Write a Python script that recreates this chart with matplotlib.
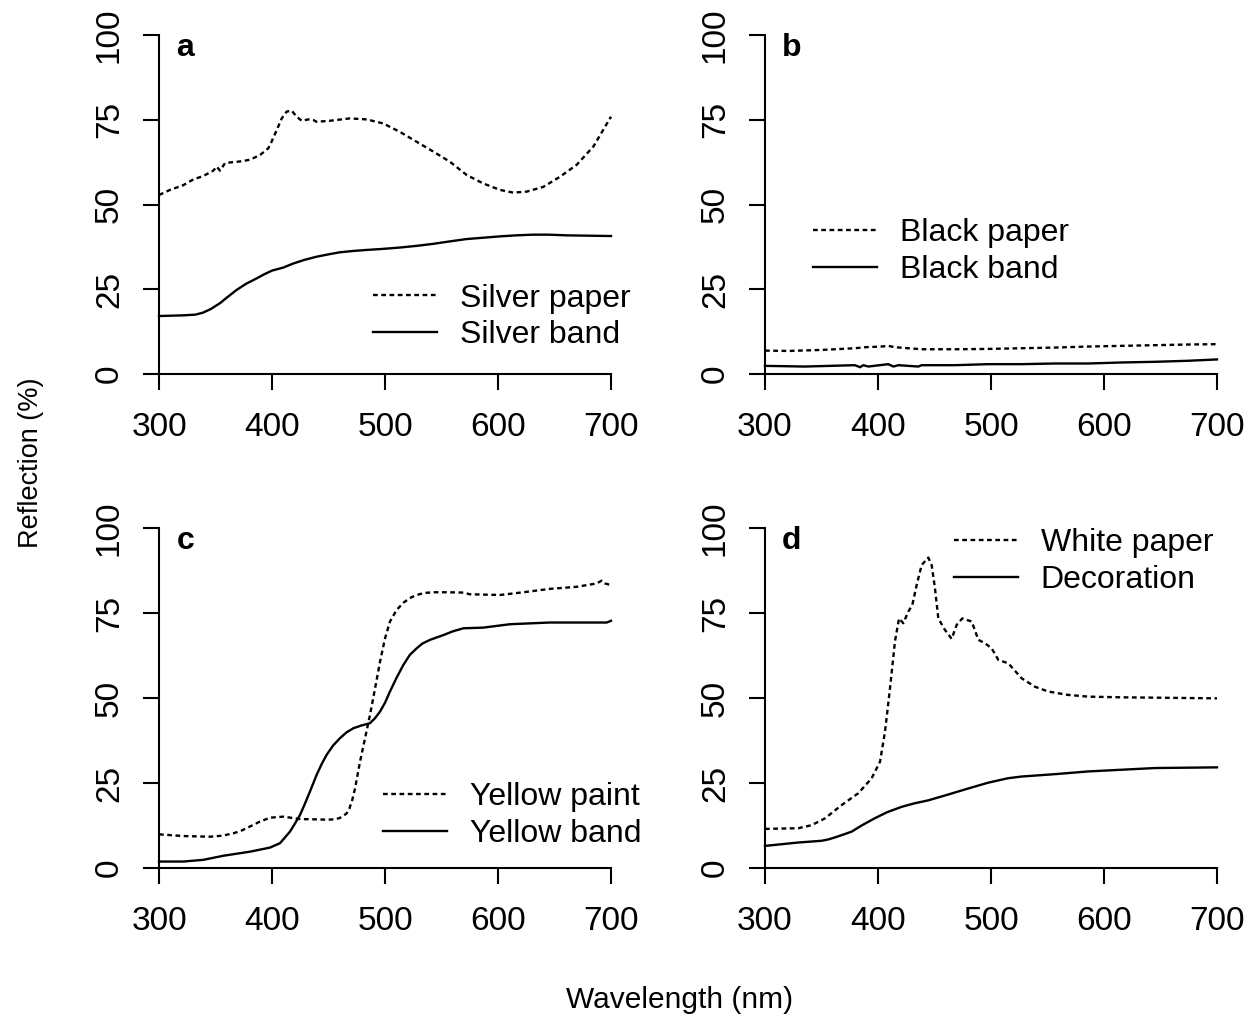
import matplotlib
matplotlib.use("Agg")
import matplotlib.pyplot as plt

plt.rcParams['font.family'] = ['Liberation Sans', 'DejaVu Sans']
plt.rcParams['font.size'] = 23

# ---- data (wavelength nm, reflection %) ----
silver_paper_wl = [300, 309.7, 321.5, 330.4, 339.2, 348.1, 351, 354, 358.4, 362.8, 371.7, 380.5,
                   389.4, 396.8, 399.7, 404.1, 408.6, 413, 417.4, 421.8, 426.3, 432.2, 436.6,
                   439.5, 451.3, 469, 483.8, 498.5, 513.3, 528, 542.8, 557.5, 572.3, 587,
                   601.8, 613.6, 625.4, 640.1, 654.9, 669.6, 684.4, 700]
silver_paper = [52.8, 54.3, 55.7, 57.4, 58.4, 60.0, 61.2, 60.0, 62.2, 62.4, 62.7, 63.2,
                64.6, 66.6, 68.6, 71.9, 75.4, 77.4, 77.7, 75.9, 74.7, 75.1, 74.9,
                74.4, 74.7, 75.4, 75.1, 73.9, 71.4, 68.5, 65.6, 62.6, 58.7, 56.2,
                54.3, 53.5, 53.8, 55.2, 58.2, 61.7, 67.1, 75.9]

silver_band_wl = [300, 321.5, 332, 339, 346, 354, 361, 368.7, 377, 386.4, 393, 400, 410,
                  418.9, 429, 439.5, 450, 460, 472, 483.8, 498, 513, 528, 542.8, 557, 572,
                  587, 601.8, 616, 631, 645, 660.8, 680, 700]
silver_band = [17.1, 17.3, 17.5, 18.1, 19.2, 20.9, 22.8, 24.8, 26.6, 28.2, 29.4, 30.5, 31.4,
               32.6, 33.7, 34.6, 35.3, 35.9, 36.3, 36.6, 36.9, 37.3, 37.8, 38.4, 39.1, 39.8,
               40.2, 40.6, 40.9, 41.1, 41.1, 40.9, 40.8, 40.7]

black_paper_wl = [300, 320.6, 350.1, 379.6, 388.5, 403.2, 409.1, 415, 438.6, 468.1, 497.6,
                  527.1, 556.6, 586.1, 615.6, 645.1, 674.6, 700]
black_paper = [6.9, 6.8, 7.1, 7.6, 7.9, 8.1, 8.3, 7.9, 7.3, 7.3, 7.4,
               7.6, 7.8, 8.1, 8.3, 8.5, 8.7, 8.8]

black_band_wl = [300, 335.4, 379.6, 384.1, 387, 391.4, 409.1, 413.6, 418, 435.7, 438.6,
                 468.1, 497.6, 527.1, 556.6, 586.1, 615.6, 645.1, 674.6, 700]
black_band = [2.4, 2.2, 2.6, 2.0, 2.6, 2.2, 2.9, 2.2, 2.6, 2.2, 2.6,
              2.6, 2.9, 2.9, 3.1, 3.1, 3.4, 3.6, 3.9, 4.3]

yellow_paint_wl = [300, 321.5, 345.1, 356, 365.8, 373, 380.5, 389, 398.2, 410, 424.8, 439.5,
                   450, 457.2, 462, 466.1, 468.4, 471, 473.5, 477.9, 482.3, 486.7, 491.2,
                   495.6, 500, 504.4, 510.3, 516.2, 522, 528, 535, 542.8, 556, 569.3, 575.2,
                   601.8, 622.4, 646, 669.6, 687.3, 691.7, 694.7, 700]
yellow_paint = [9.9, 9.4, 9.2, 9.5, 10.2, 11.0, 12.2, 13.6, 14.8, 15.1, 14.4, 14.3,
                14.2, 14.4, 15.0, 16.1, 17.4, 20.0, 23.4, 31.3, 38.1, 45.0, 52.8,
                60.7, 67.5, 72.5, 75.9, 78.0, 79.4, 80.3, 80.9, 81.1, 81.1, 81.0, 80.5,
                80.3, 81.1, 82.1, 82.7, 83.7, 84.5, 83.7, 83.2]

yellow_band_wl = [300, 321.5, 339.2, 356.9, 380.5, 398.2, 407.1, 411, 415.9, 420, 424.8,
                  429, 433.6, 439.5, 444, 448.4, 454, 460.2, 466, 472, 479, 486.7, 491,
                  495.6, 500, 504.4, 510, 516.2, 522, 528, 533, 539.8, 551.6, 560, 569.3,
                  587, 610.6, 646, 696.2, 700]
yellow_band = [1.9, 1.9, 2.4, 3.6, 4.8, 6.0, 7.3, 8.8, 10.7, 12.9, 15.6,
               18.8, 22.5, 27.4, 30.6, 33.3, 36.0, 38.2, 39.9, 41.1, 41.9, 42.6, 44.0,
               46.0, 48.6, 51.9, 55.8, 59.7, 62.7, 64.6, 66.0, 67.1, 68.5, 69.6, 70.5,
               70.7, 71.7, 72.2, 72.2, 72.7]

white_paper_wl = [300, 329.5, 341.3, 353.1, 367.8, 382.6, 394.4, 401.8, 406.2, 410.6, 415,
                  418.6, 422.4, 426.8, 430.4, 434.2, 438.6, 444.5, 447.5, 450.4, 453.4,
                  459.3, 465.2, 469.6, 474.6, 482.9, 488.8, 494.7, 500.6, 506.5, 515.3,
                  527.1, 539, 550.7, 568.4, 586.1, 615.6, 645.1, 700]
white_paper = [11.5, 11.7, 12.6, 14.6, 18.5, 22.0, 26.4, 31.3, 40.1, 52.8, 66.6,
               73.4, 72.0, 75.4, 77.4, 83.2, 89.1, 91.3, 89.1, 82.3, 73.4,
               70.0, 67.4, 71.5, 73.4, 72.5, 67.1, 66.1, 64.6, 61.2, 60.2,
               55.8, 53.3, 51.9, 50.9, 50.4, 50.2, 50.1, 49.9]

decoration_wl = [300, 329.5, 350, 356, 362, 369, 376.7, 386, 397, 408, 421, 432, 444.5, 462,
                 480, 497.6, 507, 515, 527, 556.6, 586, 615.6, 645, 700]
decoration = [6.5, 7.5, 8.0, 8.4, 9.0, 9.8, 10.7, 12.6, 14.6, 16.4, 18.0, 19.0, 19.9, 21.6,
              23.4, 25.1, 25.8, 26.4, 26.9, 27.6, 28.4, 28.9, 29.4, 29.6]

panel_letters = ['a', 'b', 'c', 'd']
labels_paper = ['Silver paper', 'Black paper', 'Yellow paint', 'White paper']
labels_band = ['Silver band', 'Black band', 'Yellow band', 'Decoration']
x_ticks = [300, 400, 500, 600, 700]
y_ticks = [0, 25, 50, 75, 100]

panels = [
    (silver_paper_wl, silver_paper, silver_band_wl, silver_band),
    (black_paper_wl, black_paper, black_band_wl, black_band),
    (yellow_paint_wl, yellow_paint, yellow_band_wl, yellow_band),
    (white_paper_wl, white_paper, decoration_wl, decoration),
]

W, H = 1257, 1025
fig = plt.figure(figsize=(W / 100, H / 100), dpi=100)

# axes boxes in pixels: (left, right, top, bottom)
boxes = [(159, 611, 35, 374), (765, 1217, 35, 374),
         (159, 611, 528, 868), (765, 1217, 528, 868)]
# legend anchors (axes fraction): left of handle, vertical centre
leg_anchor = [(0.473, 0.169), (0.106, 0.361), (0.496, 0.154), (0.418, 0.901)]

dash = (0, (2.0, 1.5))

for i, (l, r, t, b) in enumerate(boxes):
    ax = fig.add_axes([l / W, 1 - b / H, (r - l) / W, (b - t) / H])
    pw, pv, bw, bv = panels[i]
    ax.plot(pw, pv, color='black', lw=1.7, ls=dash, label=labels_paper[i], clip_on=False)
    ax.plot(bw, bv, color='black', lw=1.7, ls='-', label=labels_band[i], clip_on=False)

    ax.set_xlim(300, 700)
    ax.set_ylim(0, 100)
    for s in ['top', 'right']:
        ax.spines[s].set_visible(False)
    for s in ['left', 'bottom']:
        ax.spines[s].set_linewidth(1.5)
    ax.set_xticks(x_ticks)
    ax.set_yticks(y_ticks)
    ax.tick_params(axis='both', direction='out', length=11.5, width=1.5, labelsize=24)
    ax.tick_params(axis='x', pad=16)
    ax.tick_params(axis='y', pad=13)
    for lab in ax.get_yticklabels():
        lab.set_rotation(90)
        lab.set_va('center')

    ax.text(0.058, 0.962, panel_letters[i], transform=ax.transAxes,
            fontsize=23, fontweight='bold', ha='center', va='center')

    ax.legend(loc='center left', bbox_to_anchor=leg_anchor[i], frameon=False,
              fontsize=23, handlelength=2.0, handletextpad=0.72, labelspacing=0.2,
              borderpad=0, borderaxespad=0)

fig.text(680 / W, 1 - 1000 / H, 'Wavelength (nm)', ha='center', va='center', fontsize=21.5)
fig.text(31 / W, 1 - 463 / H, 'Reflection (%)', ha='center', va='center',
         rotation=90, fontsize=19.5)

fig.savefig('out.png', dpi=100)
